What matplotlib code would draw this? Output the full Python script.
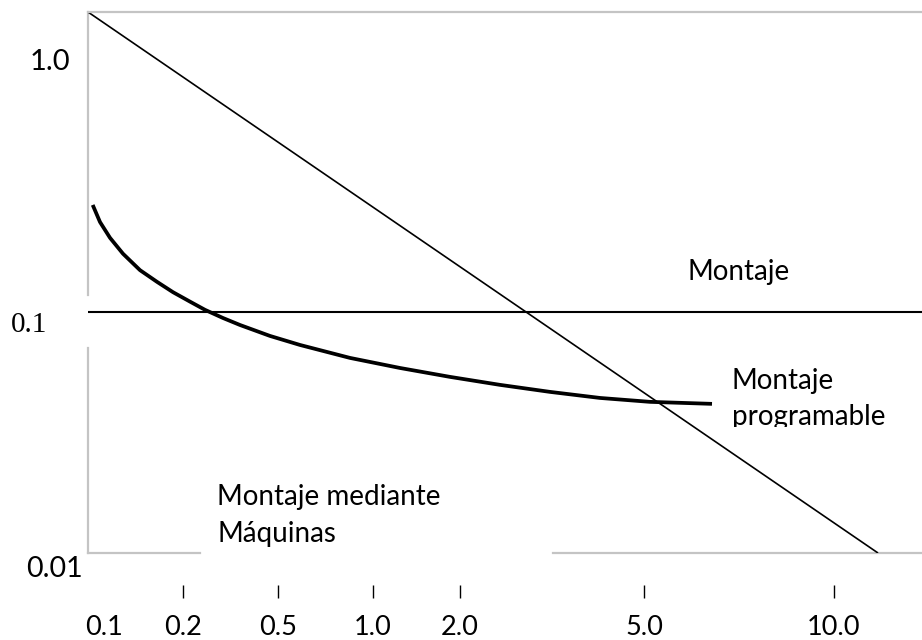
import numpy as np
import matplotlib
matplotlib.use("Agg")
import matplotlib.pyplot as plt
from matplotlib.transforms import Bbox, TransformedBbox

plt.rcParams['font.family'] = ['Lato', 'DejaVu Sans']

# x axis is a schematic (non-uniform) scale: tick labels and their positions
x_labels = ['0.1', '0.2', '0.5', '1.0', '2.0', '5.0', '10.0']
x_pos = [16, 95, 190, 285, 372, 556, 746]

# y axis is logarithmic
y_min, y_max = 0.01086, 1.585
montaje_level = 0.1

# "Montaje mediante Máquinas" - straight diagonal
diag_x = [0, 790]
diag_y = [1.585, 0.01086]

# "Montaje programable" - curve
prog_x = [4.7, 12, 22, 35, 52, 69, 85, 102, 117, 135, 152, 182, 212, 262, 312,
          362, 412, 462, 512, 562, 624]
prog_y = [0.268, 0.229, 0.198, 0.171, 0.147, 0.132, 0.120, 0.110, 0.102, 0.0946,
          0.0887, 0.0802, 0.0738, 0.0655, 0.0597, 0.0550, 0.0511, 0.0479, 0.0453,
          0.0437, 0.0429]

frame_color = '#c4c4c4'

fig = plt.figure(figsize=(9.22, 6.4), dpi=100)
ax = fig.add_axes([88 / 922, 87 / 640, 834 / 922, 541 / 640])
ax.set_yscale('log')
ax.set_xlim(0, 834)
ax.set_ylim(y_min, y_max)

# frame: only the top spine stays, left and bottom are drawn with gaps
for s in ['left', 'right', 'bottom']:
    ax.spines[s].set_visible(False)
ax.spines['top'].set_color(frame_color)
ax.spines['top'].set_linewidth(1.6)
ax.axvline(0, 0, 0.379, color=frame_color, lw=1.6, clip_on=False)
ax.axvline(0, 0.477, 1, color=frame_color, lw=1.6, clip_on=False)
ax.axhline(y_min, 0, 0.134, color=frame_color, lw=1.6, clip_on=False)
ax.axhline(y_min, 0.558, 1, color=frame_color, lw=1.6, clip_on=False)

# data lines
ax.plot(diag_x, diag_y, color='black', lw=1.2, solid_capstyle='butt')
ax.axhline(montaje_level, color='black', lw=1.5)
ax.plot(prog_x, prog_y, color='black', lw=2.7, solid_capstyle='butt',
        solid_joinstyle='round')

# x ticks (detached below the frame)
ax.spines['bottom'].set_position(('outward', 23))
ax.set_xticks(x_pos, x_labels, fontsize=19.5)
ax.tick_params(axis='x', direction='out', length=9.4, width=1.0, pad=12, color='black')
ax.xaxis.get_major_ticks()[0].tick1line.set_visible(False)
ax.tick_params(axis='y', which='both', left=False, labelleft=False)

# y labels
ax.text(-18, 1.0, '1.0', ha='right', va='center', fontsize=21)
ax.text(-41, montaje_level, '0.1', ha='right', va='top', fontsize=21,
        family='Liberation Serif', clip_on=False)
ax.text(-5, 0.0094, '0.01', ha='right', va='center', fontsize=20.5, clip_on=False)

# annotations
ax.text(600, 0.145, 'Montaje', ha='left', va='center', fontsize=20)
t = ax.text(644, 0.0449, 'Montaje\nprogramable', ha='left', va='center', fontsize=20,
            linespacing=1.5)
# the descenders of "programable" are cut off in the original
t.set_clip_box(TransformedBbox(Bbox([[0, 213 / 640], [1, 1]]), fig.transFigure))
t.set_clip_on(True)
ax.text(129, 0.01535, 'Montaje mediante\nMáquinas', ha='left', va='center', fontsize=20,
        linespacing=1.5)

fig.savefig('out.png', dpi=100)
